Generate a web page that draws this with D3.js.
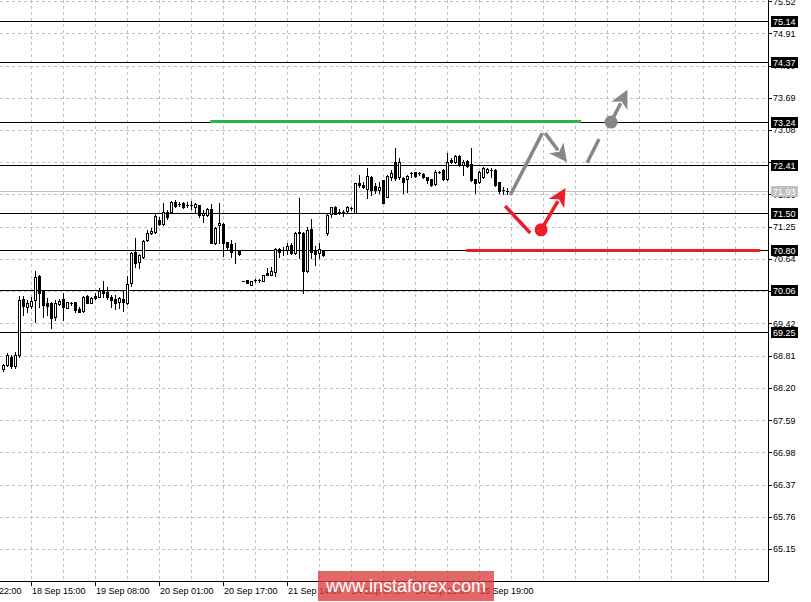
<!DOCTYPE html>
<html><head><meta charset="utf-8">
<script src="https://cdnjs.cloudflare.com/ajax/libs/d3/7.8.5/d3.min.js"></script>
<style>body{margin:0;background:#fff}svg{display:block}text{font-family:"Liberation Sans",Arial,sans-serif}</style>
</head><body><svg id="c" width="811" height="602"></svg>
<script>
// ---- data ----
const open  = [68.56,68.63,68.78,68.61,68.82,69.88,69.73,69.75,69.86,70.32,70.03,69.81,69.81,69.54,69.79,69.88,69.71,69.81,69.83,69.69,69.65,69.94,69.81,69.94,69.92,70.03,70.01,69.92,69.88,69.83,69.88,69.81,70.18,70.77,70.58,70.68,71.00,71.13,71.15,71.38,71.30,71.53,71.53,71.72,71.68,71.70,71.66,71.66,71.62,71.66,71.47,71.47,71.58,70.94,71.28,71.30,70.96,70.92,70.81,70.81,70.22,70.24,70.15,70.24,70.24,70.22,70.37,70.34,70.39,70.83,70.81,70.81,70.90,70.75,71.15,71.13,70.41,71.21,70.81,70.75,70.81,71.13,71.49,71.62,71.53,71.53,71.55,71.60,71.51,72.08,72.04,71.96,72.19,72.02,71.94,72.13,71.81,72.19,72.47,72.19,72.17,72.15,72.27,72.29,72.27,72.25,72.19,72.15,72.06,72.29,72.32,72.15,72.51,72.47,72.59,72.42,72.49,72.44,72.15,72.10,72.19,72.29,72.32,72.32,72.10,71.94,71.93];
const high  = [68.65,68.86,68.82,68.88,69.94,69.94,69.86,69.92,70.41,70.34,70.03,69.90,69.83,69.86,69.88,69.99,69.83,69.83,69.83,69.73,69.94,69.96,69.92,69.99,70.09,70.22,70.11,69.96,69.96,69.92,70.05,70.32,70.77,71.04,70.73,71.00,71.19,71.23,71.51,71.43,71.70,71.57,71.74,71.76,71.72,71.72,71.72,71.74,71.70,71.66,71.57,71.60,71.68,71.24,71.70,71.32,70.96,71.00,70.94,70.81,70.22,70.24,70.22,70.26,70.26,70.34,70.47,70.49,70.85,70.85,70.87,70.94,70.94,71.15,71.79,71.15,71.24,71.40,70.88,70.94,70.81,71.49,71.62,71.64,71.59,71.57,71.64,71.62,72.08,72.23,72.10,72.36,72.21,72.08,72.10,72.13,72.23,72.32,72.74,72.55,72.19,72.23,72.29,72.29,72.29,72.27,72.19,72.15,72.32,72.30,72.34,72.64,72.55,72.61,72.61,72.51,72.51,72.74,72.15,72.30,72.38,72.36,72.36,72.34,72.10,72.00,71.98];
const low   = [68.52,68.61,68.58,68.58,68.78,69.58,69.64,69.71,69.45,69.73,69.54,69.58,69.33,69.48,69.77,69.48,69.71,69.77,69.64,69.64,69.64,69.80,69.80,69.88,69.92,69.92,69.88,69.73,69.69,69.71,69.66,69.79,70.13,70.49,70.47,70.66,70.98,71.11,71.13,71.28,71.28,71.40,71.53,71.62,71.64,71.60,71.62,71.58,71.53,71.43,71.34,71.45,70.94,70.92,70.94,70.70,70.81,70.68,70.56,70.71,70.22,70.18,70.15,70.20,70.20,70.22,70.34,70.34,70.32,70.68,70.71,70.73,70.73,70.73,70.66,70.00,70.39,70.66,70.53,70.66,70.70,71.09,71.43,71.49,71.49,71.45,71.53,71.57,71.51,72.00,71.98,71.79,71.85,71.89,71.89,71.70,71.81,72.13,72.13,72.15,71.89,71.91,72.19,72.19,72.23,72.17,72.08,72.02,72.04,72.27,72.13,72.13,72.46,72.46,72.40,72.23,72.38,72.12,71.89,72.08,72.17,72.27,72.19,72.02,71.89,71.87,71.87];
const close = [68.63,68.82,68.61,68.82,69.86,69.75,69.81,69.84,70.30,69.99,69.77,69.75,69.52,69.81,69.84,69.73,69.83,69.81,69.67,69.64,69.92,69.81,69.90,69.90,70.03,69.99,69.92,69.86,69.81,69.90,69.83,70.17,70.75,70.56,70.71,70.98,71.13,71.17,71.45,71.30,71.53,71.43,71.72,71.64,71.68,71.62,71.66,71.66,71.68,71.47,71.51,71.58,70.94,71.23,71.32,70.94,70.87,70.77,70.81,70.73,70.22,70.18,70.22,70.24,70.24,70.34,70.34,70.41,70.83,70.77,70.81,70.88,70.75,71.13,71.13,70.41,71.19,70.77,70.73,70.83,70.71,71.47,71.62,71.49,71.53,71.53,71.62,71.60,72.08,72.04,72.00,72.21,71.94,71.94,72.00,71.70,72.21,72.27,72.17,72.47,72.10,72.21,72.27,72.21,72.27,72.19,72.13,72.04,72.29,72.29,72.15,72.47,72.47,72.59,72.42,72.47,72.40,72.13,72.08,72.29,72.36,72.34,72.32,72.04,71.93,71.94,71.93];

const yTicks = [75.52,74.91,74.30,73.69,73.08,72.47,71.86,71.25,70.64,70.03,69.42,68.81,68.20,67.59,66.98,66.37,65.76,65.15];
const xTickIdx = [-9,7,23,39,55,71,87,103,119];
const xTickLabels = ["17 Sep 22:00","18 Sep 15:00","19 Sep 08:00","20 Sep 01:00","20 Sep 17:00","21 Sep 14:00","24 Sep 07:00","24 Sep 23:00","25 Sep 19:00"];
const levels = [75.14,74.37,73.24,72.41,71.50,70.80,70.06,69.25];
const currentPrice = 71.93;
const greenLevel = {v:73.24, from:51.7, to:144.4};
const redLevel = {v:70.80, from:115.7, to:189.2};
// annotation paths in (bar index, price)
const grayLine1 = [[126.7,71.85],[134.7,73.02]];
const grayArrow1 = [[135.4,73.02],[140.9,72.47]];
const grayLine2 = [[145.9,72.46],[148.9,72.91]];
const grayCircle = [151.9,73.23];
const grayArrow2 = [[151.9,73.23],[156.0,73.84]];
const redLine = [[125.4,71.64],[131.7,71.13]];
const redCircle = [134.4,71.19];
const redArrow = [[134.4,71.19],[140.5,71.98]];

// ---- chart ----
const W=768, H=581;
const svg = d3.select("#c");
const x = d3.scaleLinear().domain([-0.875,191.125]).range([0,W]);
const y = d3.scaleLinear().domain([64.544,75.54]).range([H,0]);
svg.append("defs").append("clipPath").attr("id","pc").append("rect").attr("width",W).attr("height",H);
const g = svg.append("g").attr("clip-path","url(#pc)");
const GRID="#c0c0c0";
// horizontal grid
g.selectAll(".hg").data(yTicks).join("line").attr("x1",0).attr("x2",W)
 .attr("y1",d=>Math.round(y(d))+0.5).attr("y2",d=>Math.round(y(d))+0.5)
 .attr("stroke",GRID).attr("stroke-dasharray","3,3");
// vertical grid
const vg = d3.range(7,190,8);
g.selectAll(".vg").data(vg).join("line").attr("y1",0).attr("y2",H)
 .attr("x1",d=>Math.floor(x(d))+0.5).attr("x2",d=>Math.floor(x(d))+0.5)
 .attr("stroke",GRID).attr("stroke-dasharray","3,3");
// current price line
g.append("line").attr("x1",0).attr("x2",W).attr("y1",Math.round(y(currentPrice))+0.5).attr("y2",Math.round(y(currentPrice))+0.5).attr("stroke","#c0c0c0");
// level lines
g.selectAll(".lv").data(levels).join("line").attr("x1",0).attr("x2",W+3)
 .attr("y1",d=>Math.round(y(d))+0.5).attr("y2",d=>Math.round(y(d))+0.5).attr("stroke","#000");
// green and red lines
g.append("line").attr("x1",x(greenLevel.from)).attr("x2",x(greenLevel.to)).attr("y1",y(greenLevel.v)).attr("y2",y(greenLevel.v)).attr("stroke","#2db34a").attr("stroke-width",3);
g.append("line").attr("x1",x(redLevel.from)).attr("x2",x(redLevel.to)).attr("y1",y(redLevel.v)).attr("y2",y(redLevel.v)).attr("stroke","#ee1c25").attr("stroke-width",3);

// candles
const cg = g.append("g").attr("shape-rendering","crispEdges");
const idx = d3.range(open.length);
cg.selectAll(".wk").data(idx).join("line")
 .attr("x1",i=>Math.floor(x(i))+0.5).attr("x2",i=>Math.floor(x(i))+0.5)
 .attr("y1",i=>Math.round(y(high[i]))).attr("y2",i=>Math.round(y(low[i]))+1).attr("stroke","#000");
idx.forEach(i=>{
  const cx=Math.floor(x(i));
  const top=Math.round(y(Math.max(open[i],close[i]))), bot=Math.round(y(Math.min(open[i],close[i])));
  if (bot-top<1){
    cg.append("rect").attr("x",cx-1).attr("y",top).attr("width",3).attr("height",1).attr("fill","#000");
  } else if (close[i]>open[i]){
    cg.append("rect").attr("x",cx-0.5).attr("y",top+0.5).attr("width",2).attr("height",bot-top).attr("fill","#fff").attr("stroke","#000");
  } else {
    cg.append("rect").attr("x",cx-1).attr("y",top).attr("width",3).attr("height",bot-top+1).attr("fill","#000");
  }
});

// annotations
function P(p){return [x(p[0]),y(p[1])];}
function seg(pts,color){
  const a=P(pts[0]), b=P(pts[1]);
  g.append("line").attr("x1",a[0]).attr("y1",a[1]).attr("x2",b[0]).attr("y2",b[1]).attr("stroke",color).attr("stroke-width",3.5);
}
function arrow(pts,color){
  const a=P(pts[0]), b=P(pts[1]);
  const dx=b[0]-a[0], dy=b[1]-a[1], L=Math.hypot(dx,dy), ux=dx/L, uy=dy/L;
  const len=18, hw=9;
  const bx=b[0]-ux*len, by=b[1]-uy*len;
  g.append("line").attr("x1",a[0]).attr("y1",a[1]).attr("x2",bx+ux*3).attr("y2",by+uy*3).attr("stroke",color).attr("stroke-width",3.5);
  g.append("path").attr("d",`M${b[0]},${b[1]}L${bx-uy*hw},${by+ux*hw}L${bx+ux*5},${by+uy*5}L${bx+uy*hw},${by-ux*hw}Z`).attr("fill",color);
}
const GRAY="#878787", RED="#ee1c25";
seg(grayLine1,GRAY);
arrow(grayArrow1,GRAY);
seg(grayLine2,GRAY);
arrow(grayArrow2,GRAY);
g.append("circle").attr("cx",x(grayCircle[0])).attr("cy",y(grayCircle[1])).attr("r",6.5).attr("fill",GRAY);
seg(redLine,RED);
arrow(redArrow,RED);
g.append("circle").attr("cx",x(redCircle[0])).attr("cy",y(redCircle[1])).attr("r",6.5).attr("fill",RED);

// axes
svg.append("line").attr("x1",W+0.5).attr("x2",W+0.5).attr("y1",0).attr("y2",H+1).attr("stroke","#000");
svg.append("line").attr("x1",0).attr("x2",W+1).attr("y1",H+0.5).attr("y2",H+0.5).attr("stroke","#000");
const ya = svg.append("g");
ya.selectAll("line").data(yTicks).join("line").attr("x1",W).attr("x2",W+4)
 .attr("y1",d=>Math.round(y(d))+0.5).attr("y2",d=>Math.round(y(d))+0.5).attr("stroke","#000");
ya.selectAll("text").data(yTicks).join("text").attr("x",W+5).attr("y",d=>y(d)+3.5)
 .attr("font-size",9).attr("fill","#000").text(d=>d.toFixed(2));
// level boxes
const lb = svg.append("g");
function box(v,fill){
  const yy=Math.round(y(v));
  lb.append("rect").attr("x",W+3).attr("y",yy-5).attr("width",27).attr("height",11).attr("fill",fill);
  lb.append("text").attr("x",W+5).attr("y",yy+4).attr("font-size",9).attr("fill","#fff").text(v.toFixed(2));
}
box(currentPrice,"#c0c0c0");
levels.forEach(v=>box(v,"#000"));
// x axis
const xa = svg.append("g");
xa.selectAll("line").data(xTickIdx).join("line")
 .attr("x1",d=>Math.floor(x(d))+0.5).attr("x2",d=>Math.floor(x(d))+0.5).attr("y1",H).attr("y2",H+5).attr("stroke","#000");
xa.selectAll("text").data(xTickIdx).join("text").attr("x",d=>Math.floor(x(d))+1).attr("y",594)
 .attr("font-size",9).attr("fill","#000").text((d,i)=>xTickLabels[i]);
// watermark
svg.append("rect").attr("x",318).attr("y",571).attr("width",176).attr("height",30).attr("fill","#dc3c3c").attr("opacity",0.78);
svg.append("text").attr("x",406).attr("y",592).attr("text-anchor","middle").attr("font-size",18).attr("fill","#fff").text("www.instaforex.com");
</script></body></html>
